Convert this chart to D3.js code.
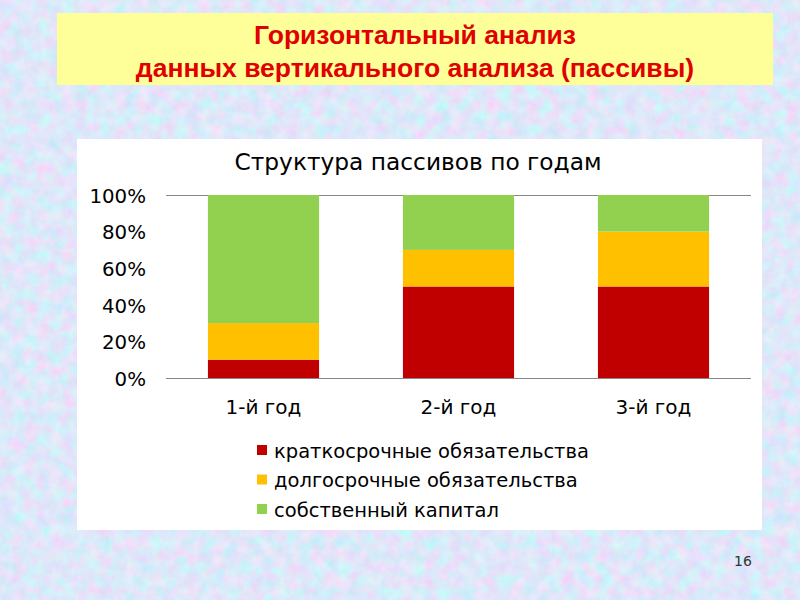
<!DOCTYPE html>
<html><head><meta charset="utf-8">
<script src="https://cdn.jsdelivr.net/npm/d3@7"></script>
<style>body{margin:0;}svg{display:block;}</style>
</head><body>
<svg id="c" width="800" height="600"></svg>
<script>
const categories = ["1-й год", "2-й год", "3-й год"];
const seriesNames = ["краткосрочные обязательства", "долгосрочные обязательства", "собственный капитал"];
const shortTerm = [10, 50, 50];
const longTerm = [20, 20, 30];
const equity = [70, 30, 20];
const tickValues = [0, 20, 40, 60, 80, 100];
const colors = ["#c00000", "#ffc000", "#92d050"];

const svg = d3.select("#c");
const defs = svg.append("defs");
const f = defs.append("filter").attr("id","tex").attr("x",0).attr("y",0).attr("width","100%").attr("height","100%");
f.append("feTurbulence").attr("type","fractalNoise").attr("baseFrequency","0.08").attr("numOctaves",4).attr("seed",7).attr("result","n");
f.append("feColorMatrix").attr("in","n").attr("type","matrix")
 .attr("values","0.6 0 0 0 0.43  -0.3 0.25 0 0 0.83  0 0 0.1 0 0.9  0 0 0 0 1");
svg.append("rect").attr("width",800).attr("height",600).attr("fill","#bccdf2");
svg.append("rect").attr("width",800).attr("height",600).attr("filter","url(#tex)");

// title box
svg.append("rect").attr("x",57).attr("y",13).attr("width",716).attr("height",72).attr("fill","#ffff99");
const tf = "'Liberation Sans Narrow','Arial Narrow','Liberation Sans',Arial,sans-serif";
svg.append("text").attr("x",415).attr("y",44).attr("text-anchor","middle").attr("font-family",tf)
 .attr("font-weight","bold").attr("font-size",26.5).attr("fill","#e00000").text("Горизонтальный анализ");
svg.append("text").attr("x",415).attr("y",77).attr("text-anchor","middle").attr("font-family",tf)
 .attr("font-weight","bold").attr("font-size",26.5).attr("fill","#e00000").text("данных вертикального анализа (пассивы)");

// chart box
svg.append("rect").attr("x",77).attr("y",139).attr("width",685).attr("height",391).attr("fill","#ffffff");
const ff = "'DejaVu Sans',Verdana,sans-serif";
svg.append("text").attr("x",418).attr("y",170).attr("text-anchor","middle").attr("font-family",ff)
 .attr("font-size",23.3).attr("fill","#000").text("Структура пассивов по годам");

const x = d3.scaleBand().domain(categories).range([166, 751]).paddingInner(0.43).paddingOuter(0.215);
const y = d3.scaleLinear().domain([0, 100]).range([378, 195]);

// gridlines at 0 and 100
svg.append("g").selectAll("line").data([0, 100]).join("line")
 .attr("x1",166).attr("x2",751).attr("y1",d=>y(d)+0.5).attr("y2",d=>y(d)+0.5)
 .attr("stroke","#888").attr("stroke-width",1);

const data = categories.map((c,i)=>({cat:c, s0:shortTerm[i], s1:longTerm[i], s2:equity[i]}));
const stack = d3.stack().keys(["s0","s1","s2"])(data);
svg.append("g").selectAll("g").data(stack).join("g").attr("fill",(d,i)=>colors[i])
 .selectAll("rect").data(d=>d).join("rect")
 .attr("x",d=>x(d.data.cat)).attr("width",x.bandwidth())
 .attr("y",d=>y(d[1])).attr("height",d=>y(d[0])-y(d[1]));

// y axis
const ya = svg.append("g").attr("transform","translate(146,1)")
 .call(d3.axisLeft(y).tickValues(tickValues).tickFormat(d=>d+"%").tickSize(0).tickPadding(0));
ya.select(".domain").remove();
ya.selectAll("text").attr("font-family",ff).attr("font-size",19.8).attr("fill","#000");

// x axis
const xa = svg.append("g").attr("transform","translate(0,400)")
 .call(d3.axisBottom(x).tickSize(0).tickPadding(0));
xa.select(".domain").remove();
xa.selectAll("text").attr("font-family",ff).attr("font-size",20).attr("fill","#000");

// legend
const lg = svg.append("g").selectAll("g").data(seriesNames).join("g")
 .attr("transform",(d,i)=>`translate(257,${451+i*29.5})`);
lg.append("rect").attr("x",0).attr("y",-6).attr("width",10).attr("height",10).attr("fill",(d,i)=>colors[i]);
lg.append("text").attr("x",17).attr("y",0).attr("dy","0.35em").attr("font-family",ff).attr("font-size",19.5)
 .attr("fill","#000").text(d=>d);

svg.append("text").attr("x",743).attr("y",566).attr("text-anchor","middle").attr("font-family",ff)
 .attr("font-size",14).attr("fill","#333").text("16");
</script>
</body></html>
